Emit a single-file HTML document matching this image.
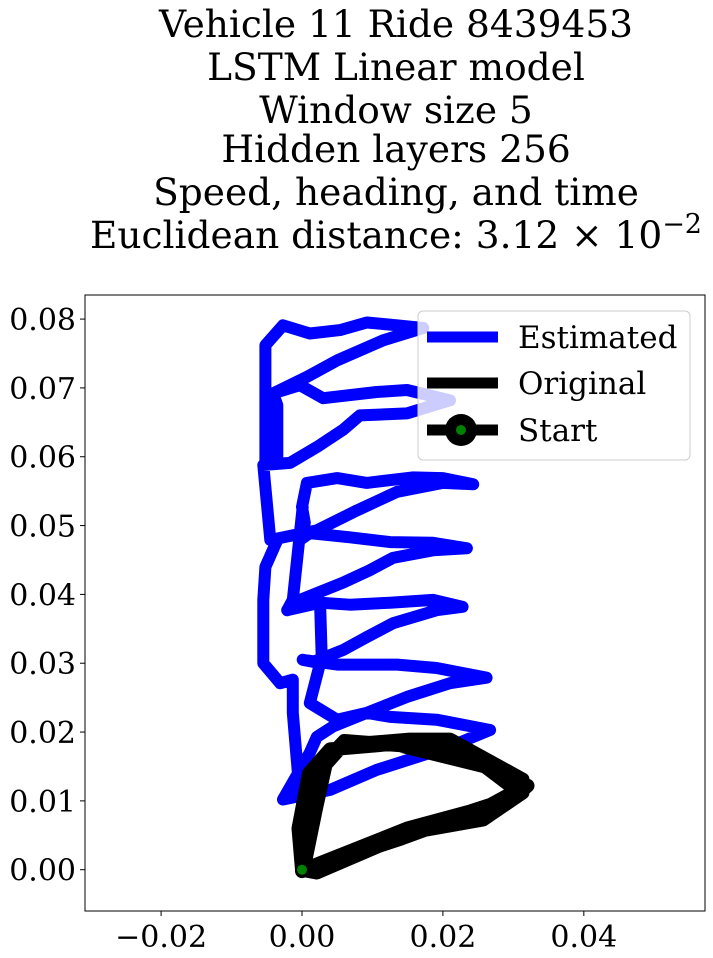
<!DOCTYPE html>
<html><head><meta charset="utf-8">
<style>
html,body{margin:0;padding:0;background:#fff;}
svg{display:block;font-family:"DejaVu Serif","Liberation Serif",serif;}
</style></head>
<body>
<svg id="chart" width="713" height="958" viewBox="0 0 713 958" xmlns="http://www.w3.org/2000/svg">
<g font-size="37.5" text-anchor="middle" fill="#000">
<text x="396" y="37">Vehicle 11 Ride 8439453</text>
<text x="396" y="80">LSTM Linear model</text>
<text x="396" y="123">Window size 5</text>
<text x="396" y="162">Hidden layers 256</text>
<text x="396" y="205">Speed, heading, and time</text>
<text x="396" y="248">Euclidean distance: 3.12 × 10<tspan dy="-15" font-size="27">−2</tspan></text>
</g>
<g id="plot"></g>
</svg>
<script>
const xTicks=[-0.02,0,0.02,0.04];
const xTickLabels=["−0.02","0.00","0.02","0.04"];
const yTicks=[0,0.01,0.02,0.03,0.04,0.05,0.06,0.07,0.08];
const yTickLabels=["0.00","0.01","0.02","0.03","0.04","0.05","0.06","0.07","0.08"];
const estX=[-0.0052,-0.0052,-0.0027,0.0011,0.0054,0.0092,0.0135,0.0172,0.0115,0.0050,0.0007,-0.0041,-0.0003,0.0030,0.0106,0.0149,0.0210,0.0149,0.0082,0.0058,0.0021,-0.0017,-0.0055,-0.0045,0.0021,0.0078,0.0135,0.0200,0.0243,0.0200,0.0157,0.0092,0.0050,0.0007,0,0.0004,-0.0003,0.0011,0.0068,0.0125,0.0186,0.0234,0.0186,0.0129,0.0096,0.0058,-0.0003,-0.0021,0.0026,0.0068,0.0125,0.0186,0.0228,0.0191,0.0129,0.0092,0.0058,0.0016,0.0001,0.0050,0.0135,0.0191,0.0262,0.0210,0.0149,0.0092,0.0125,0.0191,0.0267,0.0210,0.0106,0.0040,-0.0027,null,
0.0092,0.0044,0.0021,0.0011,-0.0027,null,
-0.0035,-0.0035,-0.0041,null,
-0.0035,-0.0052,-0.0055,-0.0055,-0.0031,-0.0013,-0.0013,-0.0003,null,
0.0026,0.0028,0.0011,0.0050,0.0092,null,
0.0001,-0.0013,-0.0021];
const estY=[0.0591,0.0762,0.0791,0.0779,0.0784,0.0795,0.0791,0.0787,0.0769,0.0740,0.0716,0.0692,0.0704,0.0685,0.0694,0.0697,0.0682,0.0663,0.0660,0.0639,0.0614,0.0591,0.0588,0.0479,0.0493,0.0522,0.0549,0.0562,0.0560,0.0569,0.0570,0.0562,0.0569,0.0562,0.0527,0.0504,0.0479,0.0489,0.0483,0.0476,0.0475,0.0467,0.0464,0.0453,0.0435,0.0417,0.0392,0.0377,0.0388,0.0385,0.0388,0.0392,0.0382,0.0377,0.0358,0.0338,0.0319,0.0302,0.0305,0.0298,0.0298,0.0293,0.0279,0.0271,0.0251,0.0228,0.0222,0.0218,0.0203,0.0179,0.0145,0.0116,0.0102,null,
0.0228,0.0208,0.0193,0.0170,0.0102,null,
0.0591,0.0675,0.0692,null,
0.0479,0.0440,0.0392,0.0300,0.0271,0.0276,0.0228,0.0106,null,
0.0377,0.0309,0.0242,0.0218,0.0228,null,
0.0527,0.0392,0.0377];
const origX=[0,0.0016,0.0030,0.0058,0.0153,0.0210,0.0313,0.0313,0.0257,0.0153,0.0021,0,
0.0003,0.0020,0.0035,0.0060,0.0150,0.0230,0.0320,0.0300,0.0240,0.0150,0.0010,0,
-0.0005,0.0010,0.0040,0.0130,0.0260,0.0305,0.0260,0.0140,0];
const origY=[0,0.0083,0.0149,0.0181,0.0189,0.0189,0.0131,0.0112,0.0073,0.0054,-0.0004,0,
0.0005,0.0090,0.0160,0.0187,0.0180,0.0165,0.0122,0.0105,0.0085,0.0060,0.0003,0,
0.0060,0.0140,0.0175,0.0183,0.0150,0.0115,0.0090,0.0045,-0.0002];
const startPt=[0,0];

const L=85,R=705,T=295,B=911;
const xMin=-0.0308,xMax=0.0572,yMin=-0.0060,yMax=0.0835;
const sx=v=>L+(v-xMin)/(xMax-xMin)*(R-L);
const sy=v=>B-(v-yMin)/(yMax-yMin)*(B-T);
const NS="http://www.w3.org/2000/svg";
const plot=document.getElementById('plot');
function mk(tag,attrs,parent){const e=document.createElementNS(NS,tag);for(const k in attrs)e.setAttribute(k,attrs[k]);(parent||plot).appendChild(e);return e;}
function pathD(xs,ys){let d="",pen=false;for(let i=0;i<xs.length;i++){if(xs[i]===null){pen=false;continue;}d+=(pen?"L":"M")+sx(xs[i]).toFixed(1)+" "+sy(ys[i]).toFixed(1)+" ";pen=true;}return d;}

const defs=mk('defs',{});
const cp=mk('clipPath',{id:'clip'},defs);
mk('rect',{x:L,y:T,width:R-L,height:B-T},cp);
const g=mk('g',{'clip-path':'url(#clip)'});

const est=mk('path',{d:pathD(estX,estY),fill:'none',stroke:'#0000ff','stroke-width':12,'stroke-linejoin':'round','stroke-linecap':'round'},g);


const orig=mk('path',{d:pathD(origX,origY),fill:'none',stroke:'#000','stroke-width':14,'stroke-linejoin':'round','stroke-linecap':'round'},g);


const st=mk('circle',{cx:sx(startPt[0]),cy:sy(startPt[1]),r:5,fill:'green'},g);



const frame=mk('rect',{x:L,y:T,width:R-L,height:B-T,fill:'none',stroke:'#000','stroke-width':1});



xTicks.forEach((v,i)=>{
  const x=sx(v);
  const t=mk('line',{x1:x,x2:x,y1:B,y2:B+5,stroke:'#000','stroke-width':1});
  
  
  const lb=mk('text',{x:x,y:B+36,'font-size':30,'text-anchor':'middle'});
  lb.textContent=xTickLabels[i];
  
  
});
yTicks.forEach((v,i)=>{
  const y=sy(v);
  const t=mk('line',{x1:L-5,x2:L,y1:y,y2:y,stroke:'#000','stroke-width':1});
  
  
  const lb=mk('text',{x:L-9,y:y+11,'font-size':30,'text-anchor':'end'});
  lb.textContent=yTickLabels[i];
  
  
});

const lg=mk('g',{});


mk('rect',{x:418,y:311,width:272,height:149,rx:5,fill:'rgba(255,255,255,0.8)',stroke:'#ccc','stroke-width':1},lg);
const entries=[["Estimated","#0000ff",337],["Original","#000",383],["Start","#000",430]];
entries.forEach((e,i)=>{
  const eg=mk('g',{},lg);
  
  
  mk('line',{x1:427,x2:498,y1:e[2],y2:e[2],stroke:e[1],'stroke-width':11},eg);
  if(i===2){mk('circle',{cx:461,cy:e[2],r:16,fill:'#000'},eg);mk('circle',{cx:461,cy:e[2],r:5,fill:'green'},eg);}
  const tx=mk('text',{x:518,y:e[2]+11,'font-size':31},eg);
  tx.textContent=e[0];
});
</script>
</body></html>
